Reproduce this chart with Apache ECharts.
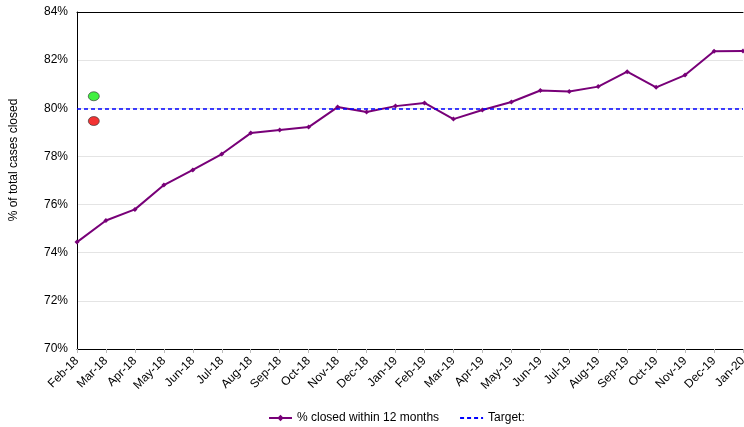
<!DOCTYPE html>
<html><head><meta charset="utf-8">
<script src="https://cdn.jsdelivr.net/npm/echarts@6/dist/echarts.min.js"></script>
<style>html,body{margin:0;padding:0;background:#fff}#c{width:744px;height:427px}</style>
</head><body><div id="c"></div>
<script>
var categories = ['Feb-18','Mar-18','Apr-18','May-18','Jun-18','Jul-18','Aug-18','Sep-18','Oct-18','Nov-18','Dec-18','Jan-19','Feb-19','Mar-19','Apr-19','May-19','Jun-19','Jul-19','Aug-19','Sep-19','Oct-19','Nov-19','Dec-19','Jan-20'];
var closedPct = [74.44,75.34,75.80,76.81,77.44,78.10,78.97,79.10,79.22,80.05,79.85,80.09,80.22,79.55,79.93,80.26,80.74,80.70,80.90,81.52,80.87,81.38,82.37,82.38];
var target = 80;
var greenDot = [0.58, 80.5];
var redDot = [0.58, 79.47];

var font = 'Liberation Sans, Arial, sans-serif';
var chart = echarts.init(document.getElementById('c'));
chart.setOption({
  animation: false,
  textStyle: {fontFamily: font},
  grid: {left: 77, top: 12, right: 1, bottom: 78, outerBoundsMode: 'none', containLabel: false},
  legend: {
    top: 407, left: 263, itemGap: 20, itemWidth: 23, itemHeight: 8,
    textStyle: {fontFamily: font, fontSize: 12, color: '#000'},
    data: [{name: '% closed within 12 months'}, {name: 'Target:', itemStyle: {opacity: 0}}]
  },
  graphic: [{
    type: 'text', x: 8, y: 160, rotation: Math.PI/2,
    style: {text: '% of total cases closed', font: '12px Liberation Sans, Arial, sans-serif', fill: '#000', align: 'center', verticalAlign: 'top'}
  }],
  xAxis: [{
    type: 'category', data: categories, boundaryGap: false,
    axisLine: {lineStyle: {color: '#000', width: 1}},
    axisTick: {show: true, alignWithLabel: true, length: 4, lineStyle: {color: '#bbb'}},
    axisLabel: {rotate: 45, fontSize: 12, color: '#000', margin: 10, interval: 0, fontFamily: font},
    splitLine: {show: false}
  }, {
    type: 'category', data: categories, position: 'top', boundaryGap: false,
    axisLine: {show: true, lineStyle: {color: '#000', width: 1}},
    axisTick: {show: false}, axisLabel: {show: false}
  }, {
    type: 'value', min: 0, max: categories.length - 1, show: false
  }],
  yAxis: {
    type: 'value', min: 70, max: 84, interval: 2,
    axisLine: {show: true, lineStyle: {color: '#000', width: 1}},
    axisTick: {show: false},
    axisLabel: {fontSize: 12, color: '#000', margin: 9, formatter: function(v){return v + '%';}, fontFamily: font},
    splitLine: {show: true, lineStyle: {color: '#e4e4e4', width: 1}}
  },
  series: [{
    name: '% closed within 12 months', type: 'line', xAxisIndex: 0, data: closedPct,
    symbol: 'diamond', symbolSize: 5, showSymbol: true,
    lineStyle: {color: '#780078', width: 2},
    itemStyle: {color: '#780078'}
  }, {
    name: 'Target:', type: 'line', xAxisIndex: 0, data: [],
    symbol: 'none',
    lineStyle: {color: '#0000ff', width: 1.5, type: [4, 3]},
    itemStyle: {color: '#0000ff'},
    markLine: {
      silent: true, symbol: 'none', label: {show: false},
      lineStyle: {color: '#0000ff', width: 1.5, type: [4, 3]},
      data: [{yAxis: target}]
    }
  }, {
    type: 'scatter', xAxisIndex: 2, data: [greenDot], symbol: 'circle', symbolSize: [11, 9],
    itemStyle: {color: '#11ee11', borderColor: '#333', borderWidth: 0.8}
  }, {
    type: 'scatter', xAxisIndex: 2, data: [redDot], symbol: 'circle', symbolSize: [11, 9],
    itemStyle: {color: '#f00000', borderColor: '#333', borderWidth: 0.8}
  }]
});
</script></body></html>
